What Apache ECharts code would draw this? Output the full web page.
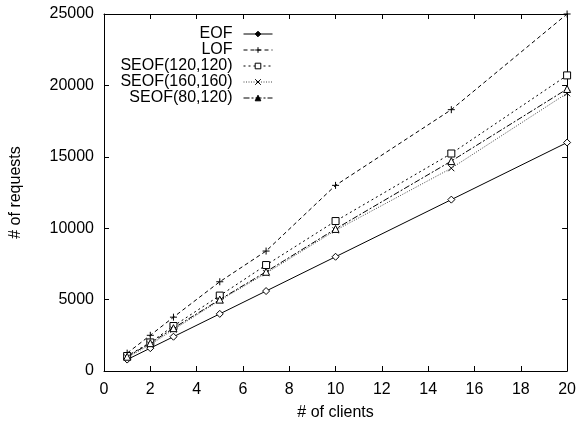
<!DOCTYPE html>
<html>
<head>
<meta charset="utf-8">
<script src="https://cdn.jsdelivr.net/npm/echarts@6/dist/echarts.min.js"></script>
<style>html,body{margin:0;padding:0;background:#fff}#c{width:579px;height:426px}</style>
</head>
<body>
<div id="c"></div>
<script>
const clients = [1, 2, 3, 5, 7, 10, 15, 20];
const eof = [800, 1600, 2400, 4000, 5600, 8000, 12000, 16000];
const lof = [1250, 2500, 3770, 6250, 8400, 13000, 18300, 25000];
const seof120 = [1050, 2000, 3150, 5280, 7420, 10500, 15230, 20700];
const seof160 = [950, 1850, 2900, 4950, 6850, 9850, 14200, 19450];
const seof80 = [1000, 1950, 3000, 5000, 6950, 9950, 14700, 19750];
const seriesNames = ['EOF', 'LOF', 'SEOF(120,120)', 'SEOF(160,160)', 'SEOF(80,120)'];
const xTicks = [0, 2, 4, 6, 8, 10, 12, 14, 16, 18, 20];
const yTicks = [0, 5000, 10000, 15000, 20000, 25000];

const FONT = 'Liberation Sans';
const FS = 16;
const pair = arr => clients.map((c, i) => [c, arr[i]]);
const styles = [
  {data: eof, symbol: 'diamond', size: 7, line: 'solid', color: '#000', legendFill: '#000'},
  {data: lof, symbol: 'path://M0,5L10,5M5,0L5,10', size: 7, line: [4, 3], color: '#000', legendFill: '#fff'},
  {data: seof120, symbol: 'rect', size: 7, line: [2, 3], color: '#000', legendFill: '#fff'},
  {data: seof160, symbol: 'path://M0,0L10,10M10,0L0,10', size: 6, line: [1, 1.5], color: '#444', legendFill: '#fff'},
  {data: seof80, symbol: 'triangle', size: 7, line: [6, 2, 2, 2], color: '#000', legendFill: '#000'}
];

const axisCommon = {
  type: 'value',
  axisLine: {show: true, onZero: false, lineStyle: {color: '#000', width: 1}},
  axisTick: {show: true, inside: true, length: 5, lineStyle: {color: '#000'}},
  splitLine: {show: false}
};

const chart = echarts.init(document.getElementById('c'));
chart.setOption({
  animation: false,
  backgroundColor: '#fff',
  textStyle: {fontFamily: FONT},
  grid: {left: 99, right: 10, top: 14, bottom: 47, containLabel: false},
  legend: {
    orient: 'vertical',
    align: 'right',
    right: 301,
    top: 21,
    itemWidth: 29,
    itemHeight: 7,
    itemGap: 0,
    data: seriesNames.map((n, i) => ({name: n, itemStyle: {color: styles[i].legendFill, borderColor: '#000', borderWidth: 1}})),
    lineStyle: {width: 1},
    itemStyle: {borderWidth: 1},
    textStyle: {fontFamily: FONT, fontSize: FS, color: '#000', padding: [0, 6, 0, 0]}
  },
  xAxis: [
    Object.assign({}, axisCommon, {
      min: xTicks[0], max: xTicks[xTicks.length - 1], interval: 2,
      position: 'bottom',
      name: '# of clients', nameLocation: 'middle', nameGap: 34,
      nameTextStyle: {fontFamily: FONT, fontSize: FS, color: '#000'},
      axisLabel: {fontFamily: FONT, fontSize: FS, color: '#000', margin: 11, formatter: v => String(v)}
    }),
    Object.assign({}, axisCommon, {
      min: xTicks[0], max: xTicks[xTicks.length - 1], interval: 2,
      position: 'top', axisLabel: {show: false}
    })
  ],
  yAxis: [
    Object.assign({}, axisCommon, {
      min: yTicks[0], max: yTicks[yTicks.length - 1], interval: 5000,
      position: 'left',
      name: '# of requests', nameLocation: 'middle', nameGap: 80, nameRotate: 90,
      nameTextStyle: {fontFamily: FONT, fontSize: FS, color: '#000'},
      axisLabel: {fontFamily: FONT, fontSize: FS, color: '#000', margin: 10, formatter: v => String(v)}
    }),
    Object.assign({}, axisCommon, {
      min: yTicks[0], max: yTicks[yTicks.length - 1], interval: 5000,
      position: 'right', axisLabel: {show: false}
    })
  ],
  series: seriesNames.map((name, i) => ({
    name: name,
    type: 'line',
    xAxisIndex: 0,
    yAxisIndex: 0,
    data: pair(styles[i].data),
    symbol: styles[i].symbol,
    symbolSize: styles[i].size,
    showAllSymbol: true,
    lineStyle: {color: styles[i].color, width: 1, type: styles[i].line},
    itemStyle: {color: '#fff', borderColor: '#000', borderWidth: 1},
    emphasis: {disabled: true}
  }))
});
</script>
</body>
</html>
